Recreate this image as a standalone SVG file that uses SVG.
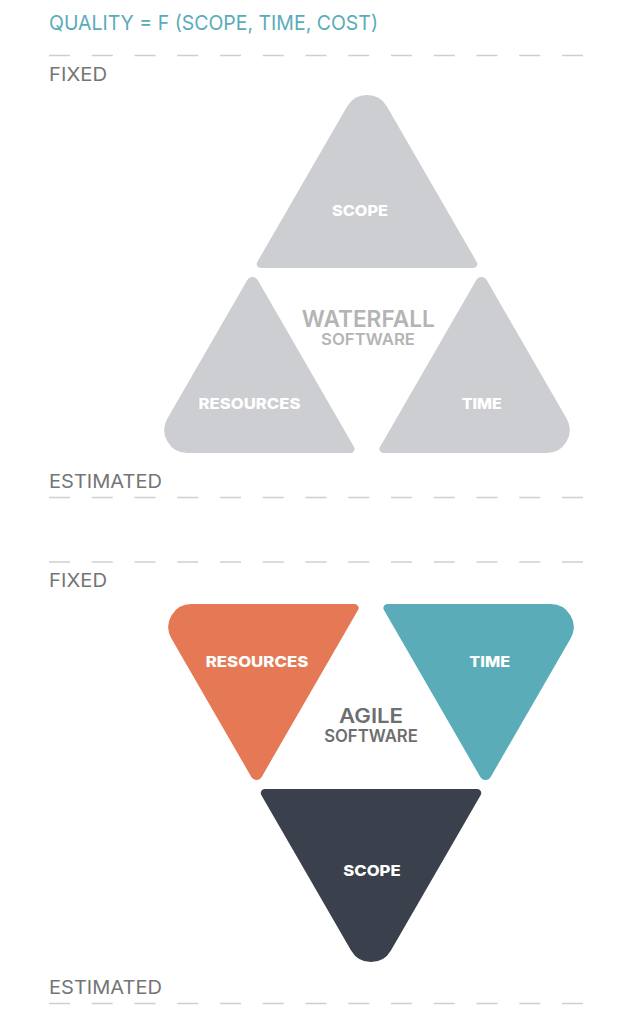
<svg xmlns="http://www.w3.org/2000/svg" width="644" height="1024" viewBox="0 0 644 1024">
  <defs>
    <!-- three rounded equilateral pieces of the triangle, drawn apex-up -->
    <path id="piece-top" d="M347.08,106.5 A23 23 0 0 1 386.92,106.5 L476.74,262 A4 4 0 0 1 473.27,268 L260.73,268 A4 4 0 0 1 257.26,262 Z"/>
    <path id="piece-left" d="M247.3,280.1 A6 6 0 0 1 257.7,280.1 L354.04,447 A4 4 0 0 1 350.57,453 L187.34,453 A23 23 0 0 1 167.42,418.5 Z"/>
    <path id="piece-right" d="M476.3,280.1 A6 6 0 0 1 486.7,280.1 L566.58,418.5 A23 23 0 0 1 546.66,453 L383.43,453 A4 4 0 0 1 379.96,447 Z"/>
  </defs>
  <style>
    text { font-family: Inter, "Liberation Sans", Arial, sans-serif; }
    .title { font-size: 20px; fill: #5aacbb; }
    .band { font-size: 19px; fill: #757575; }
    .guide { stroke: #cfcfcf; stroke-width: 1.4; stroke-dasharray: 21 21.75; fill: none; }
    .lbl { font-size: 15px; font-weight: 800; fill: #ffffff; text-anchor: middle; }
    .big { font-weight: 600; text-anchor: middle; }
    .gray { fill: #cdced1; }
    .orange { fill: #e57956; }
    .teal { fill: #5aacb9; }
    .dark { fill: #3a404c; }
  </style>

  <rect width="644" height="1024" fill="#ffffff"/>

  <!-- heading -->
  <text class="title" x="49" y="29.5" textLength="329" lengthAdjust="spacingAndGlyphs">QUALITY = F (SCOPE, TIME, COST)</text>

  <!-- dashed band guides -->
  <g id="guides">
    <line class="guide" x1="49" y1="55.5" x2="584" y2="55.5"/>
    <line class="guide" x1="49" y1="497.5" x2="584" y2="497.5"/>
    <line class="guide" x1="49" y1="562" x2="584" y2="562"/>
    <line class="guide" x1="49" y1="1003.5" x2="584" y2="1003.5"/>
  </g>

  <!-- band captions -->
  <g id="band-labels">
    <text class="band" x="49" y="80.5" textLength="58" lengthAdjust="spacingAndGlyphs">FIXED</text>
    <text class="band" x="49" y="487.5" textLength="113" lengthAdjust="spacingAndGlyphs">ESTIMATED</text>
    <text class="band" x="49" y="587" textLength="58" lengthAdjust="spacingAndGlyphs">FIXED</text>
    <text class="band" x="49" y="994" textLength="113" lengthAdjust="spacingAndGlyphs">ESTIMATED</text>
  </g>

  <!-- waterfall triangle -->
  <g id="waterfall-scope">
    <use href="#piece-top" class="gray"/>
    <text class="lbl" x="360" y="215.5" textLength="56" lengthAdjust="spacingAndGlyphs">SCOPE</text>
  </g>
  <g id="waterfall-resources">
    <use href="#piece-left" class="gray"/>
    <text class="lbl" x="249.5" y="409" textLength="102" lengthAdjust="spacingAndGlyphs">RESOURCES</text>
  </g>
  <g id="waterfall-time">
    <use href="#piece-right" class="gray"/>
    <text class="lbl" x="481.7" y="409" textLength="40" lengthAdjust="spacingAndGlyphs">TIME</text>
  </g>
  <g id="waterfall-center">
    <text class="big" x="368.3" y="326.7" font-size="23" fill="#b4b4b4" textLength="133" lengthAdjust="spacingAndGlyphs">WATERFALL</text>
    <text class="big" x="368" y="345" font-size="16" fill="#b4b4b4" textLength="94" lengthAdjust="spacingAndGlyphs">SOFTWARE</text>
  </g>

  <!-- agile triangle: same pieces, flipped upside down -->
  <g id="agile-resources">
    <use href="#piece-left" class="orange" transform="translate(4 1057) scale(1 -1)"/>
    <text class="lbl" x="257" y="667.3" textLength="102.6" lengthAdjust="spacingAndGlyphs">RESOURCES</text>
  </g>
  <g id="agile-time">
    <use href="#piece-right" class="teal" transform="translate(4 1057) scale(1 -1)"/>
    <text class="lbl" x="489.7" y="667.3" textLength="40.7" lengthAdjust="spacingAndGlyphs">TIME</text>
  </g>
  <g id="agile-scope">
    <use href="#piece-top" class="dark" transform="translate(4 1057) scale(1 -1)"/>
    <text class="lbl" x="372" y="876" textLength="57.3" lengthAdjust="spacingAndGlyphs">SCOPE</text>
  </g>
  <g id="agile-center">
    <text class="big" x="371" y="722.7" font-size="20" fill="#6e6e6e" textLength="64" lengthAdjust="spacingAndGlyphs">AGILE</text>
    <text class="big" x="371" y="742.3" font-size="17" fill="#6e6e6e" textLength="93.7" lengthAdjust="spacingAndGlyphs">SOFTWARE</text>
  </g>
</svg>
